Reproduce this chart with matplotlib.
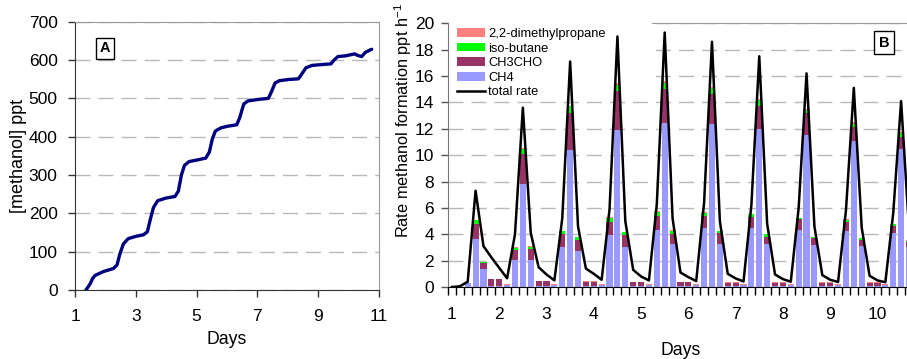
import matplotlib
matplotlib.use('Agg')
import matplotlib.pyplot as plt
from matplotlib.patches import Rectangle
import numpy as np

plt.rcParams['font.family'] = 'Liberation Sans'
plt.rcParams['mathtext.default'] = 'regular'

# ---- Panel A: cumulative methanol (ppt) vs days ----
days_a = [1.36, 1.49, 1.58, 1.66, 1.93, 2.26, 2.38, 2.48, 2.59, 2.75, 3.0, 3.25,
          3.38, 3.48, 3.58, 3.72, 4.0, 4.29, 4.40, 4.50, 4.60, 4.75, 5.0, 5.3,
          5.42, 5.52, 5.62, 5.8, 6.0, 6.32, 6.42, 6.55, 6.68, 7.0, 7.36, 7.45,
          7.58, 7.72, 8.0, 8.35, 8.47, 8.6, 8.8, 9.1, 9.42, 9.52, 9.65, 9.9,
          10.2, 10.3, 10.43, 10.55, 10.7, 10.76]
methanol = [0, 15, 30, 38, 48, 56, 65, 95, 120, 134, 140, 144,
            152, 185, 215, 233, 240, 244, 258, 300, 325, 335, 339, 344,
            360, 395, 415, 423, 427, 431, 450, 485, 493, 497, 500, 515,
            540, 546, 549, 551, 565, 580, 586, 588, 590, 600, 609, 611,
            616, 612, 609, 620, 626, 628]

# ---- Panel B: 4-hourly methanol formation rate (ppt/h), 6 bins per day ----
ch4 = [0, 0, 0.30, 3.67, 1.35, 0.05,
       0.05, 0.12, 2.08, 7.80, 2.08, 0.05,
       0.05, 0.12, 3.06, 10.40, 2.70, 0.04,
       0.04, 0.12, 3.95, 11.90, 3.06, 0.04,
       0.04, 0.12, 4.35, 12.45, 3.25, 0.04,
       0.04, 0.12, 4.45, 12.35, 3.27, 0.04,
       0.04, 0.12, 4.45, 11.97, 3.27, 0.04,
       0.04, 0.12, 4.33, 11.54, 3.16, 0.04,
       0.04, 0.12, 4.28, 11.04, 3.10, 0.04,
       0.04, 0.12, 4.10, 10.50, 3.00]
ch3cho = [0, 0, 0.02, 1.13, 0.45, 0.55,
          0.55, 0.06, 0.76, 2.30, 0.82, 0.40,
          0.40, 0.06, 0.95, 2.80, 0.90, 0.36,
          0.36, 0.06, 1.00, 2.95, 0.90, 0.34,
          0.34, 0.06, 1.05, 2.60, 0.80, 0.32,
          0.32, 0.06, 0.90, 2.30, 0.80, 0.30,
          0.30, 0.06, 0.89, 1.78, 0.55, 0.30,
          0.30, 0.06, 0.81, 1.66, 0.54, 0.28,
          0.28, 0.06, 0.68, 1.06, 0.47, 0.28,
          0.28, 0.06, 0.50, 0.90, 0.40]
isobutane = [0, 0, 0, 0.25, 0.07, 0,
             0, 0, 0.10, 0.40, 0.15, 0,
             0, 0, 0.22, 0.50, 0.18, 0,
             0, 0, 0.30, 0.50, 0.20, 0,
             0, 0, 0.30, 0.45, 0.22, 0,
             0, 0, 0.30, 0.45, 0.17, 0,
             0, 0, 0.16, 0.45, 0.18, 0,
             0, 0, 0.06, 0.20, 0.10, 0,
             0, 0, 0.14, 0.30, 0.13, 0,
             0, 0, 0.15, 0.27, 0.10]
dimethylpropane = [0, 0, 0, 0.03, 0.02, 0.02,
                   0.02, 0.02, 0.06, 0.05, 0.03, 0.03,
                   0.03, 0.02, 0.03, 0.05, 0.03, 0.03,
                   0.03, 0.02, 0.05, 0.10, 0.03, 0.03,
                   0.03, 0.02, 0.05, 0.10, 0.03, 0.03,
                   0.03, 0.02, 0.05, 0.08, 0.03, 0.03,
                   0.03, 0.02, 0.05, 0.08, 0.03, 0.03,
                   0.03, 0.02, 0.04, 0.10, 0.03, 0.03,
                   0.03, 0.02, 0.04, 0.08, 0.03, 0.03,
                   0.03, 0.02, 0.04, 0.08, 0.03]
total_rate = [0.0, 0.05, 0.40, 7.30, 3.10, 2.25,
              1.45, 0.66, 4.00, 13.60, 4.10, 1.50,
              0.95, 0.50, 5.20, 17.10, 4.60, 1.40,
              1.00, 0.55, 5.90, 19.00, 5.00, 1.30,
              0.80, 0.50, 6.30, 19.30, 5.20, 1.10,
              0.75, 0.45, 6.40, 18.60, 5.00, 1.00,
              0.65, 0.42, 6.20, 17.50, 4.80, 0.95,
              0.60, 0.40, 6.00, 16.20, 4.60, 0.90,
              0.55, 0.38, 5.80, 15.10, 4.50, 0.85,
              0.50, 0.36, 5.60, 14.10, 4.40]
day_labels = ['1', '2', '3', '4', '5', '6', '7', '8', '9', '10']

W, H = 907, 359
fig = plt.figure(figsize=(W / 100, H / 100), dpi=100)


def px_axes(left, top, right, bottom):
    return fig.add_axes([left / W, 1 - bottom / H, (right - left) / W, (bottom - top) / H])


grid_kw = dict(color='#b8b8b8', linewidth=1.0, linestyle=(0, (10.8, 5.8)))

# ---------------- Panel A ----------------
axA = px_axes(75, 21.7, 379, 290)
axA.plot(days_a, methanol, color='#000080', lw=2.4, solid_capstyle='round', zorder=3)
axA.set_xlim(1, 11)
axA.set_ylim(0, 700)
axA.set_xticks([1, 3, 5, 7, 9, 11])
axA.set_yticks(range(0, 701, 100))
axA.set_axisbelow(True)
axA.yaxis.grid(True, **grid_kw)
axA.tick_params(axis='both', direction='out', length=5, width=1, colors='#333333',
                labelsize=12.5, labelcolor='black')
axA.tick_params(axis='x', pad=8.5)
axA.tick_params(axis='y', pad=7.5)
for s in ['left', 'bottom']:
    axA.spines[s].set_color('#333333')
for s in ['top', 'right']:
    axA.spines[s].set_color('#999999')
axA.set_xlabel('Days', fontsize=12.7, labelpad=5)
axA.set_ylabel('[methanol] ppt', fontsize=13)
axA.yaxis.set_label_coords(-0.158, 0.5)
axA.text(0.098, 0.901, 'A', transform=axA.transAxes, ha='center', va='center',
         fontsize=10.5, fontweight='bold',
         bbox=dict(boxstyle='square,pad=0.25', fc='white', ec='black', lw=1))

# ---------------- Panel B ----------------
n = len(ch4)
cat_px = 7.88
axB = px_axes(448, 23.3, 448 + n * cat_px, 287)
x = np.arange(n)
bw = 0.78
b1 = np.array(ch4)
b2 = b1 + np.array(ch3cho)
b3 = b2 + np.array(isobutane)
h_ch4 = axB.bar(x, ch4, bw, color='#9999ff', zorder=2)
h_ald = axB.bar(x, ch3cho, bw, bottom=b1, color='#993366', zorder=2)
h_iso = axB.bar(x, isobutane, bw, bottom=b2, color='#00ff00', zorder=2)
h_dmp = axB.bar(x, dimethylpropane, bw, bottom=b3, color='#ff8080', zorder=2)
h_tot, = axB.plot(x, total_rate, color='black', lw=1.8, zorder=3)

axB.set_xlim(-0.5, n - 0.5)
axB.set_ylim(0, 20)
axB.set_yticks(range(0, 21, 2))
axB.set_axisbelow(True)
axB.yaxis.grid(True, **grid_kw)
axB.set_xticks(np.arange(-0.5, n, 1))
axB.set_xticklabels([])
axB.set_xticks(np.arange(0, n, 6), minor=True)
axB.set_xticklabels(day_labels, minor=True)
axB.tick_params(axis='x', which='major', direction='out', length=5.5, width=1, colors='black')
axB.tick_params(axis='x', which='minor', length=0, pad=14.5, labelsize=12.5)
axB.tick_params(axis='y', direction='out', length=5, width=1, colors='#555555',
                labelsize=12.5, labelcolor='black', pad=5)
axB.spines['bottom'].set_color('black')
axB.spines['left'].set_color('#777777')
axB.spines['top'].set_color('#999999')
axB.spines['right'].set_color('#999999')
axB.spines['top'].set_zorder(0.8)
axB.set_xlabel('Days', fontsize=12.7, labelpad=14)
axB.set_ylabel('Rate methanol formation ppt h$^{-1}$', fontsize=11.8)
axB.yaxis.set_label_coords(-0.073, 0.63)

# white legend area hiding grid and frame behind it
axB.add_patch(Rectangle(((449 - 448) / (n * cat_px), (287 - 96) / 263.7),
                        (652 - 449) / (n * cat_px), 85 / 263.7,
                        transform=axB.transAxes, fc='white', ec='none',
                        zorder=1, clip_on=False))
leg = axB.legend([h_dmp, h_iso, h_ald, h_ch4, h_tot],
                 ['2,2-dimethylpropane', 'iso-butane', 'CH3CHO', 'CH4', 'total rate'],
                 loc='upper left', bbox_to_anchor=(0.0194, 0.982), frameon=False,
                 fontsize=9.3, borderpad=0, borderaxespad=0, labelspacing=0.2,
                 handlelength=2.15, handleheight=0.65, handletextpad=0.25)
leg.set_zorder(5)

axB.text(0.938, 0.927, 'B', transform=axB.transAxes, ha='center', va='center',
         fontsize=10.5, fontweight='bold',
         bbox=dict(boxstyle='square,pad=0.3', fc='white', ec='black', lw=1))

fig.savefig('out.png', dpi=100)
